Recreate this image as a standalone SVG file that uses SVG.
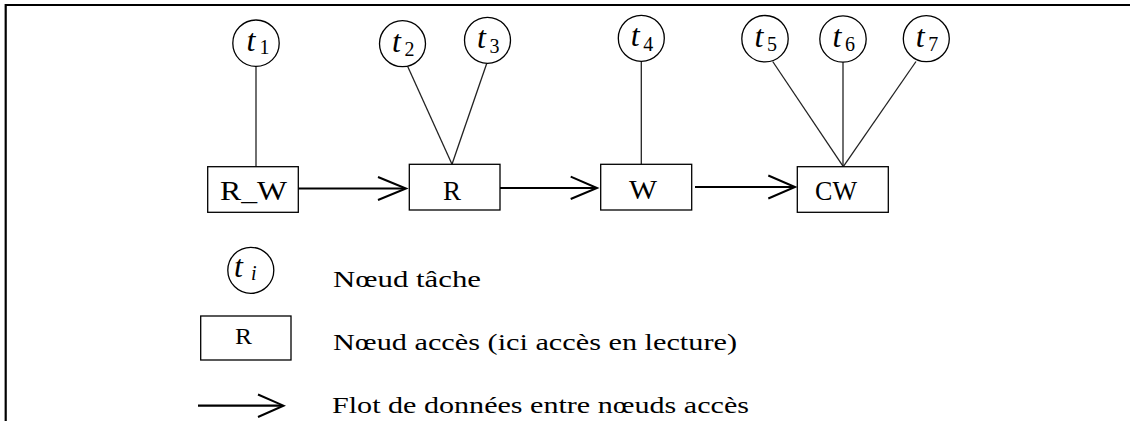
<svg xmlns="http://www.w3.org/2000/svg" width="1130" height="421" viewBox="0 0 1130 421">
<style>
.frame{fill:none;stroke:#000;stroke-width:2.2}
.task{fill:#fff;stroke:#000;stroke-width:1.3}
.box{fill:#fff;stroke:#000;stroke-width:1.3}
.edge{stroke:#222;stroke-width:1.3;fill:none}
.flow{stroke:#000;stroke-width:2.2;fill:none}
.head{stroke:#000;stroke-width:2;fill:none;stroke-linejoin:miter}
.lbl{font-family:"Liberation Serif","Times New Roman",serif;fill:#000}
.t{font-family:"Liberation Serif","Times New Roman",serif;font-style:italic;font-size:32px;fill:#000}
.s{font-family:"Liberation Serif","Times New Roman",serif;font-size:20px;fill:#000}
</style>
<rect width="1130" height="421" fill="#fff"/>
<path class="frame" d="M5.7,421 V5 H1130"/>

<g id="connectors">
  <line class="edge" x1="256" y1="66.5" x2="256" y2="167"/>
  <line class="edge" x1="407.7" y1="66.5" x2="452" y2="164.3"/>
  <line class="edge" x1="486.7" y1="63.5" x2="452" y2="164.3"/>
  <line class="edge" x1="641.3" y1="61.5" x2="641.3" y2="164.3"/>
  <line class="edge" x1="772.7" y1="61.5" x2="843.3" y2="166.7"/>
  <line class="edge" x1="843" y1="62" x2="843" y2="166.7"/>
  <line class="edge" x1="916" y1="61.5" x2="843.3" y2="166.7"/>
  <line class="flow" x1="298.3" y1="188.5" x2="405" y2="188.5"/>
  <polyline class="head" points="378,177 406,188.5 378,200"/>
  <line class="flow" x1="500" y1="188" x2="596" y2="188"/>
  <polyline class="head" points="570.7,176.7 597,188 570.7,199"/>
  <line class="flow" x1="695" y1="187" x2="794" y2="187"/>
  <polyline class="head" points="768.3,175.5 795,187 768.3,198.5"/>
</g>

<g id="t1"><circle class="task" cx="256" cy="43.2" r="23.2"/><text class="t" x="246.5" y="50.5">t</text><text class="s" x="259.5" y="53.5">1</text></g>
<g id="t2"><circle class="task" cx="402.5" cy="43.7" r="23"/><text class="t" x="392" y="51.5">t</text><text class="s" x="404.5" y="56">2</text></g>
<g id="t3"><circle class="task" cx="487.5" cy="40.3" r="23"/><text class="t" x="477" y="48">t</text><text class="s" x="489.5" y="52.5">3</text></g>
<g id="t4"><circle class="task" cx="641.3" cy="38.3" r="23"/><text class="t" x="630.8" y="46">t</text><text class="s" x="643.3" y="50.5">4</text></g>
<g id="t5"><circle class="task" cx="765" cy="38.7" r="23.2"/><text class="t" x="754.5" y="46.5">t</text><text class="s" x="767" y="51">5</text></g>
<g id="t6"><circle class="task" cx="843" cy="39" r="23.2"/><text class="t" x="832.5" y="46.5">t</text><text class="s" x="845" y="51">6</text></g>
<g id="t7"><circle class="task" cx="926.3" cy="38.7" r="23"/><text class="t" x="915.8" y="46.5">t</text><text class="s" x="928.3" y="51">7</text></g>

<g id="RW"><rect class="box" x="207.7" y="166.7" width="90.6" height="45.6"/><text class="lbl" x="220" y="200" font-size="28" textLength="67" lengthAdjust="spacingAndGlyphs">R_W</text></g>
<g id="R"><rect class="box" x="409.3" y="164.3" width="90.7" height="45.7"/><text class="lbl" x="443" y="200" font-size="28" textLength="18" lengthAdjust="spacingAndGlyphs">R</text></g>
<g id="W"><rect class="box" x="600.7" y="164.3" width="91" height="45.7"/><text class="lbl" x="629" y="199" font-size="28" textLength="28" lengthAdjust="spacingAndGlyphs">W</text></g>
<g id="CW"><rect class="box" x="797.3" y="166.7" width="91" height="45.6"/><text class="lbl" x="815" y="200" font-size="28" textLength="42" lengthAdjust="spacingAndGlyphs">CW</text></g>

<g id="legend-task"><circle class="task" cx="250.8" cy="270.3" r="23"/><text class="t" x="234" y="277">t</text><text class="s" x="251" y="280" font-style="italic">i</text>
<text class="lbl" x="333" y="287" font-size="24" textLength="148" lengthAdjust="spacingAndGlyphs">Nœud tâche</text></g>
<g id="legend-access"><rect class="box" x="200.7" y="316" width="90.3" height="44"/><text class="lbl" x="235" y="344" font-size="24" textLength="17" lengthAdjust="spacingAndGlyphs">R</text>
<text class="lbl" x="333" y="350" font-size="24" textLength="404" lengthAdjust="spacingAndGlyphs">Nœud accès (ici accès en lecture)</text></g>
<g id="legend-flow"><line class="flow" x1="198" y1="405.7" x2="282" y2="405.7"/><polyline class="head" points="258,394.5 283.5,405.7 258,417"/>
<text class="lbl" x="332" y="413" font-size="24" textLength="417" lengthAdjust="spacingAndGlyphs">Flot de données entre nœuds accès</text></g>
</svg>
